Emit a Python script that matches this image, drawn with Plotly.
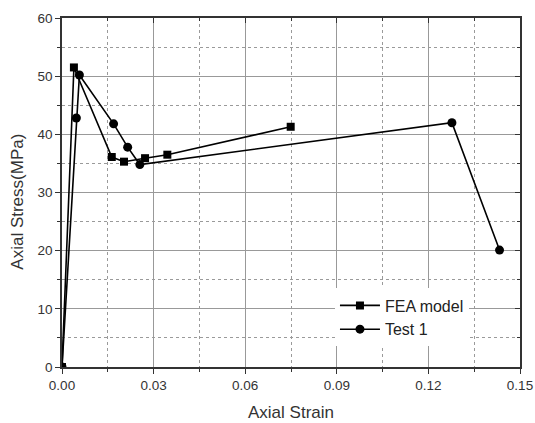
import plotly.graph_objects as go

fea_strain = [0.0, 0.0039, 0.0163, 0.0203, 0.0272, 0.0345, 0.0749]
fea_stress = [0.0, 51.5, 36.1, 35.3, 35.9, 36.5, 41.3]

test_strain = [0.0, 0.0047, 0.0057, 0.0169, 0.0215, 0.0255, 0.1277, 0.1433]
test_stress = [0.0, 42.8, 50.2, 41.8, 37.8, 34.8, 42.0, 20.1]

x_ticks = [0.00, 0.03, 0.06, 0.09, 0.12, 0.15]
x_labels = ["0.00", "0.03", "0.06", "0.09", "0.12", "0.15"]
x_minor = [0.015, 0.045, 0.075, 0.105, 0.135]
y_ticks = [0, 10, 20, 30, 40, 50, 60]
y_minor = [5, 15, 25, 35, 45, 55]

font = "Liberation Sans, Arial, sans-serif"
ink = "#333"

fig = go.Figure()
fig.add_trace(go.Scatter(
    x=fea_strain, y=fea_stress, mode="lines+markers", name="FEA model",
    line=dict(color="black", width=1.6),
    marker=dict(symbol="square", size=8, color="black"),
))
fig.add_trace(go.Scatter(
    x=test_strain, y=test_stress, mode="lines+markers", name="Test 1",
    line=dict(color="black", width=1.6),
    marker=dict(symbol="circle", size=9, color="black"),
))

grid_major = "#999999"
grid_minor = "#9a9a9a"

common = dict(
    showline=True, linecolor=ink, linewidth=1.5,
    ticks="outside", ticklen=5, tickwidth=1.2, tickcolor=ink,
    showgrid=True, gridcolor=grid_major, gridwidth=1,
    zeroline=False, automargin=False,
    tickfont=dict(family=font, size=13.5, color=ink),
)

fig.update_layout(
    width=535, height=423,
    margin=dict(l=62, r=15, t=18, b=56),
    paper_bgcolor="white", plot_bgcolor="white",
    font=dict(family=font, color=ink),
    xaxis=dict(
        range=[0, 0.15], tickvals=x_ticks, ticktext=x_labels,
        minor=dict(tickvals=x_minor, ticks="outside", ticklen=3, tickcolor=ink,
                   showgrid=True, gridcolor=grid_minor, griddash="dot", gridwidth=1),
        **common,
    ),
    yaxis=dict(
        range=[0, 60], tickvals=y_ticks,
        minor=dict(tickvals=y_minor, ticks="outside", ticklen=3, tickcolor=ink,
                   showgrid=True, gridcolor=grid_minor, griddash="dot", gridwidth=1),
        **common,
    ),
    xaxis2=dict(
        overlaying="x", side="top", range=[0, 0.15], tickvals=x_ticks,
        showticklabels=False, showline=True, linecolor=ink, linewidth=1.5,
        ticks="inside", ticklen=5, tickcolor=ink, showgrid=False, zeroline=False,
        minor=dict(tickvals=x_minor, ticks="inside", ticklen=3, tickcolor=ink, showgrid=False),
        anchor="y", automargin=False,
    ),
    yaxis2=dict(
        overlaying="y", side="right", range=[0, 60], tickvals=y_ticks,
        showticklabels=False, showline=True, linecolor=ink, linewidth=1.5,
        ticks="inside", ticklen=5, tickcolor=ink, showgrid=False, zeroline=False,
        minor=dict(tickvals=y_minor, ticks="inside", ticklen=3, tickcolor=ink, showgrid=False),
        anchor="x", automargin=False,
    ),
    legend=dict(
        x=0.596, y=0.225, xanchor="left", yanchor="top",
        bgcolor="white", borderwidth=0,
        font=dict(family=font, size=16, color="#222"),
        itemwidth=40, tracegroupgap=0,
    ),
    showlegend=True,
    annotations=[
        dict(text="Axial Strain", xref="paper", yref="paper", x=0.5, y=-0.129,
             xanchor="center", yanchor="middle", showarrow=False,
             font=dict(family=font, size=17, color=ink)),
        dict(text="Axial Stress(MPa)", xref="paper", yref="paper", x=-0.098, y=0.474,
             xanchor="center", yanchor="middle", showarrow=False, textangle=-90,
             font=dict(family=font, size=17, color=ink)),
    ],
)

fig.add_trace(go.Scatter(x=[None], y=[None], xaxis="x2", yaxis="y2", showlegend=False, hoverinfo="skip"))

fig.write_html(
    "out.html",
    config={"displayModeBar": False},
    post_script="document.body.style.margin='0';document.body.style.overflow='hidden';",
)
